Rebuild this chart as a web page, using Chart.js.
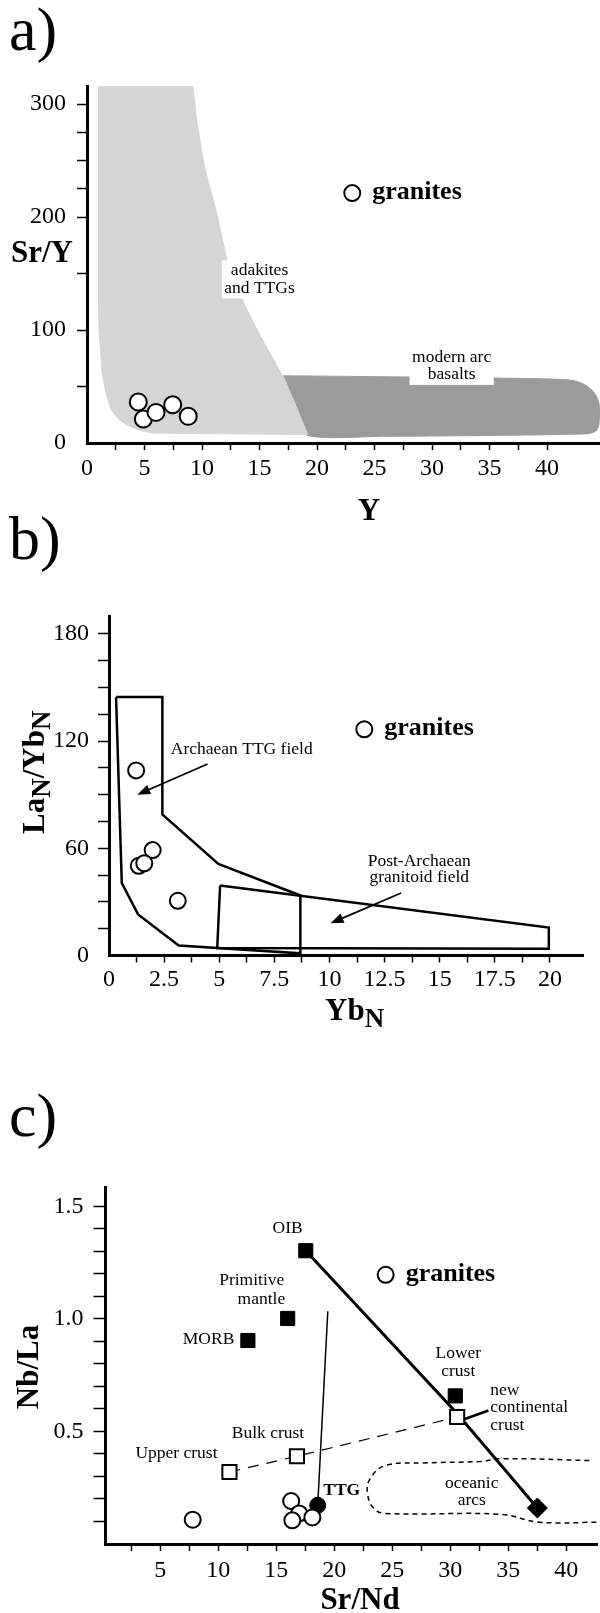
<!DOCTYPE html>
<html>
<head>
<meta charset="utf-8">
<script src="https://cdn.jsdelivr.net/npm/chart.js@4.4.0/dist/chart.umd.min.js"></script>
<style>
  html, body { margin: 0; padding: 0; background: #fff; }
  body { width: 600px; height: 1613px; position: relative; overflow: hidden; }
  .panel { position: absolute; left: 0; width: 600px; }
</style>
</head>
<body>
<div class="panel" style="top:0;height:530px"><canvas id="chartA"></canvas></div>
<div class="panel" style="top:500px;height:540px"><canvas id="chartB"></canvas></div>
<div class="panel" style="top:1040px;height:573px"><canvas id="chartC"></canvas></div>
<script>
// ---- a) Sr/Y vs Y ----
const samplesA_Y = [4.46, 4.9, 6.0, 7.45, 8.8];
const samplesA_SrY = [36.3, 21.2, 27.1, 33.9, 23.6];
const adakiteField_Y = [1.0, 9.2, 9.55, 10.2, 11.2, 12.2, 13.7, 15.0, 16.3, 17.2, 18.1, 19.2,
  5.7, 4.4, 3.4, 2.66, 2.1, 1.66, 1.33, 1.06, 1.0, 1.0];
const adakiteField_SrY = [316, 316, 284.7, 244.8, 206.5, 160.8, 122.4, 95.9, 72.3, 56, 33.9, 7.4,
  8.8, 11.8, 16.2, 22, 29.5, 44, 60.5, 97, 122.4, 316];
const arcField_Y = [16.7, 28.2, 35.3, 41.7, 43.0, 44.0, 44.5, 44.5, 44.2, 43.3, 25.7, 19.2, 18.7, 18.0, 17.2, 16.7];
const arcField_SrY = [59.6, 58.4, 57.5, 56, 53, 45.7, 35.4, 16.2, 10.3, 8, 5.9, 6.5, 20.6, 38.3, 53, 59.6];
const xTicksA = [0, 2.5, 5, 7.5, 10, 12.5, 15, 17.5, 20, 22.5, 25, 27.5, 30, 32.5, 35, 37.5, 40];
const xLabelsA = [0, 5, 10, 15, 20, 25, 30, 35, 40];
const yTicksA = [0, 50, 100, 150, 200, 225, 250, 275, 300];
const yLabelsA = [0, 100, 200, 300];

// ---- b) LaN/YbN vs YbN ----
const samplesB_Yb = [1.23, 1.98, 1.35, 1.6, 3.12];
const samplesB_LaYb = [103.6, 59, 50.2, 51.6, 30.6];
const ttgField_Yb = [0.32, 2.42, 2.42, 4.96, 8.68, 8.68, 3.16, 1.32, 0.58, 0.32];
const ttgField_LaYb = [144.6, 144.6, 79, 51.2, 33.6, 1.2, 5.6, 23, 40.6, 144.6];
const granitoidField_Yb = [5.04, 19.95, 19.95, 4.91, 5.04];
const granitoidField_LaYb = [39.2, 15.6, 3.8, 4.2, 39.2];
const xTicksB = [0, 1.25, 2.5, 3.75, 5, 6.25, 7.5, 8.75, 10, 11.25, 12.5, 13.75, 15, 16.25, 17.5, 18.75, 20];
const xLabelsB = [0, 2.5, 5, 7.5, 10, 12.5, 15, 17.5, 20];
const yTicksB = [0, 15, 30, 45, 60, 75, 90, 105, 120, 135, 150, 165, 180];
const yLabelsB = [0, 60, 120, 180];

// ---- c) Nb/La vs Sr/Nd ----
const samplesC_SrNd = [7.79, 16.28, 16.97, 16.38, 18.11];
const samplesC_NbLa = [0.108, 0.191, 0.136, 0.105, 0.118];
const ttgC_SrNd = [18.57];
const ttgC_NbLa = [0.172];
const mantleC_names = ['OIB', 'Primitive mantle', 'MORB', 'Lower crust'];
const mantleC_SrNd = [17.54, 15.98, 12.55, 30.43];
const mantleC_NbLa = [1.303, 1.002, 0.904, 0.658];
const crustC_names = ['new continental crust', 'Bulk crust', 'Upper crust'];
const crustC_SrNd = [30.59, 16.78, 10.96];
const crustC_NbLa = [0.564, 0.390, 0.320];
const arcEndC_SrNd = [37.51];
const arcEndC_NbLa = [0.160];
const mixLineC_SrNd = [17.54, 30.53, 37.51];
const mixLineC_NbLa = [1.303, 0.583, 0.160];
const ttgLineC_SrNd = [19.44, 18.57];
const ttgLineC_NbLa = [1.034, 0.172];
const crustLineC_SrNd = [10.96, 16.78, 30.59];
const crustLineC_NbLa = [0.320, 0.390, 0.564];
const arcsField_SrNd = [42.0, 34.35, 32.68, 27.7, 24.37, 23.03, 22.87, 23.37, 24.37, 34.35, 37.68, 43.0];
const arcsField_NbLa = [0.371, 0.379, 0.367, 0.360, 0.348, 0.285, 0.222, 0.160, 0.136, 0.132, 0.097, 0.097];
const xTicksC = [2.5, 5, 7.5, 10, 12.5, 15, 17.5, 20, 22.5, 25, 27.5, 30, 32.5, 35, 37.5, 40];
const xLabelsC = [5, 10, 15, 20, 25, 30, 35, 40];
const yTicksC = [0.1, 0.2, 0.3, 0.4, 0.5, 0.6, 0.7, 0.8, 0.9, 1.0, 1.1, 1.2, 1.3, 1.4, 1.5];
const yLabelsC = [0.5, 1.0, 1.5];

const serif = '"Liberation Serif", "Times New Roman", serif';
const tickFont = { family: serif, size: 24 };
const noteFont = '17.5px ' + serif;
const titleFont = 'bold 31px ' + serif;
const subFont = 'bold 27px ' + serif;
const letterFont = '62px ' + serif;

const pts = (xs, ys) => xs.map((x, i) => ({ x: x, y: ys[i] }));

function axis(min, max, tickVals, labelVals, fmt, size, tickLen, pad) {
  return {
    type: 'linear', min: min, max: max,
    afterBuildTicks: s => { s.ticks = tickVals.map(v => ({ value: v })); },
    afterFit: s => { if (s.isHorizontal()) s.height = size; else s.width = size; },
    ticks: {
      autoSkip: false, maxRotation: 0, padding: pad, color: '#000', font: tickFont,
      callback: v => labelVals.includes(v) ? fmt(v) : ''
    },
    grid: {
      drawOnChartArea: false, tickLength: tickLen, tickWidth: 1.5,
      tickColor: c => (c.tick && c.tick.value === 0) ? 'rgba(0,0,0,0)' : '#000'
    },
    border: { color: '#000', width: 3 }
  };
}

function baseOptions(pad, xAxis, yAxis) {
  return {
    responsive: true, maintainAspectRatio: false, animation: false,
    layout: { padding: pad, autoPadding: false },
    plugins: { legend: { display: false }, tooltip: { enabled: false } },
    scales: { x: xAxis, y: yAxis }
  };
}

function text(ctx, s, x, y, font, align, base) {
  ctx.font = font;
  ctx.fillStyle = '#000';
  ctx.textAlign = align || 'center';
  ctx.textBaseline = base || 'middle';
  ctx.fillText(s, x, y);
}

function granites(ctx, px, py) {
  ctx.beginPath();
  ctx.arc(px, py, 8, 0, Math.PI * 2);
  ctx.fillStyle = '#fff';
  ctx.fill();
  ctx.lineWidth = 2;
  ctx.strokeStyle = '#000';
  ctx.stroke();
  text(ctx, 'granites', px + 20, py + 6, 'bold 26px ' + serif, 'left', 'alphabetic');
}

function labelBox(ctx, lines, cx, cy) {
  ctx.font = noteFont;
  const lh = 17.5;
  const w = Math.max(...lines.map(s => ctx.measureText(s).width)) + 5;
  const h = lh * lines.length + 3;
  ctx.fillStyle = '#fff';
  ctx.fillRect(cx - w / 2, cy - h / 2, w, h);
  lines.forEach((s, i) => text(ctx, s, cx, cy + (i - (lines.length - 1) / 2) * lh, noteFont));
}

function arrow(ctx, x0, y0, x1, y1) {
  const a = Math.atan2(y1 - y0, x1 - x0);
  ctx.strokeStyle = '#000';
  ctx.lineWidth = 1.8;
  ctx.beginPath();
  ctx.moveTo(x0, y0);
  ctx.lineTo(x1 - 8 * Math.cos(a), y1 - 8 * Math.sin(a));
  ctx.stroke();
  ctx.beginPath();
  ctx.moveTo(x1, y1);
  ctx.lineTo(x1 - 13 * Math.cos(a) + 5 * Math.sin(a), y1 - 13 * Math.sin(a) - 5 * Math.cos(a));
  ctx.lineTo(x1 - 13 * Math.cos(a) - 5 * Math.sin(a), y1 - 13 * Math.sin(a) + 5 * Math.cos(a));
  ctx.closePath();
  ctx.fillStyle = '#000';
  ctx.fill();
}

// ---------------- a) ----------------
const fieldLabelsA = [
  { lines: ['adakites', 'and TTGs'], x: 15.0, y: 144.8 },
  { lines: ['modern arc', 'basalts'], x: 31.7, y: 68.2 }
];

new Chart(document.getElementById('chartA'), {
  type: 'scatter',
  data: {
    datasets: [
      { label: 'samples', data: pts(samplesA_Y, samplesA_SrY), pointRadius: 8.5,
        pointBackgroundColor: '#fff', pointBorderColor: '#000', pointBorderWidth: 2, order: 0 },
      { label: 'adakites and TTGs', data: pts(adakiteField_Y, adakiteField_SrY), showLine: true,
        fill: 'shape', backgroundColor: '#d5d5d5', borderColor: '#d5d5d5', borderWidth: 1,
        pointRadius: 0, order: 1 },
      { label: 'modern arc basalts', data: pts(arcField_Y, arcField_SrY), showLine: true,
        fill: 'shape', backgroundColor: '#9b9b9b', borderColor: '#9b9b9b', borderWidth: 1,
        tension: 0.3, pointRadius: 0, order: 2 }
    ]
  },
  options: baseOptions({ top: 86, right: 0, bottom: 0, left: 0 },
    axis(0, 44.6, xTicksA, xLabelsA, v => String(v), 87, 7, 4),
    axis(0, 316, yTicksA, yLabelsA, v => String(v), 87, 10, 11)),
  plugins: [{
    id: 'decorA',
    afterDraw(chart) {
      const { ctx, scales: { x, y } } = chart;
      ctx.save();
      fieldLabelsA.forEach(l => labelBox(ctx, l.lines, x.getPixelForValue(l.x), y.getPixelForValue(l.y)));
      granites(ctx, x.getPixelForValue(23.06), y.getPixelForValue(221.2));
      text(ctx, 'a)', 9, 50, letterFont, 'left', 'alphabetic');
      text(ctx, 'Sr/Y', 11, 262, titleFont, 'left', 'alphabetic');
      text(ctx, 'Y', 369, 520, titleFont, 'center', 'alphabetic');
      ctx.restore();
    }
  }]
});

// ---------------- b) ----------------
const notesB = [
  { t: 'Archaean TTG field', x: 6.02, y: 115.6 },
  { t: 'Post-Archaean', x: 14.07, y: 52.6 },
  { t: 'granitoid field', x: 14.07, y: 43.6 }
];
const arrowsB = [
  { x0: 4.47, y0: 107.2, x1: 1.28, y1: 90 },
  { x0: 13.25, y0: 35, x1: 10.05, y1: 18 }
];

new Chart(document.getElementById('chartB'), {
  type: 'scatter',
  data: {
    datasets: [
      { label: 'samples', data: pts(samplesB_Yb, samplesB_LaYb), pointRadius: 8,
        pointBackgroundColor: '#fff', pointBorderColor: '#000', pointBorderWidth: 2, order: 0 },
      { label: 'Archaean TTG field', data: pts(ttgField_Yb, ttgField_LaYb), showLine: true,
        borderColor: '#000', borderWidth: 2.5, pointRadius: 0, order: 1 },
      { label: 'Post-Archaean granitoid field', data: pts(granitoidField_Yb, granitoidField_LaYb), showLine: true,
        borderColor: '#000', borderWidth: 2.5, pointRadius: 0, order: 2 }
    ]
  },
  options: baseOptions({ top: 116, right: 17, bottom: 0, left: 0 },
    axis(0, 21.5, xTicksB, xLabelsB, v => String(v), 84.5, 7, 3),
    axis(0, 190, yTicksB, yLabelsB, v => String(v), 109, 11, 9)),
  plugins: [{
    id: 'decorB',
    afterDraw(chart) {
      const { ctx, scales: { x, y } } = chart;
      ctx.save();
      notesB.forEach(n => text(ctx, n.t, x.getPixelForValue(n.x), y.getPixelForValue(n.y), noteFont));
      arrowsB.forEach(a => arrow(ctx, x.getPixelForValue(a.x0), y.getPixelForValue(a.y0),
        x.getPixelForValue(a.x1), y.getPixelForValue(a.y1)));
      granites(ctx, x.getPixelForValue(11.58), y.getPixelForValue(126.6));
      text(ctx, 'b)', 9, 59, letterFont, 'left', 'alphabetic');
      // x title Yb with subscript N
      ctx.font = titleFont;
      const wYb = ctx.measureText('Yb').width;
      text(ctx, 'Yb', 325, 520, titleFont, 'left', 'alphabetic');
      text(ctx, 'N', 325 + wYb, 527, subFont, 'left', 'alphabetic');
      // y title LaN/YbN, rotated
      ctx.translate(44, 334);
      ctx.rotate(-Math.PI / 2);
      let px = 0;
      [['La', titleFont, 0], ['N', subFont, 6], ['/Yb', titleFont, 0], ['N', subFont, 6]].forEach(p => {
        text(ctx, p[0], px, p[2], p[1], 'left', 'alphabetic');
        ctx.font = p[1];
        px += ctx.measureText(p[0]).width;
      });
      ctx.restore();
    }
  }]
});

// ---------------- c) ----------------
const notesC = [
  { t: 'OIB', x: 15.98, y: 1.40 },
  { t: 'Primitive', x: 12.88, y: 1.170 },
  { t: 'mantle', x: 13.71, y: 1.087 },
  { t: 'MORB', x: 9.16, y: 0.909 },
  { t: 'Lower', x: 30.69, y: 0.846 },
  { t: 'crust', x: 30.69, y: 0.767 },
  { t: 'Bulk crust', x: 14.28, y: 0.492 },
  { t: 'Upper crust', x: 6.39, y: 0.403 },
  { t: 'oceanic', x: 31.85, y: 0.269 },
  { t: 'arcs', x: 31.85, y: 0.194 }
];
const notesLeftC = [
  { t: 'new', x: 33.45, y: 0.684 },
  { t: 'continental', x: 33.45, y: 0.606 },
  { t: 'crust', x: 33.45, y: 0.525 }
];

new Chart(document.getElementById('chartC'), {
  type: 'scatter',
  data: {
    datasets: [
      { label: 'samples', data: pts(samplesC_SrNd, samplesC_NbLa), pointRadius: 8,
        pointBackgroundColor: '#fff', pointBorderColor: '#000', pointBorderWidth: 2, order: 0 },
      { label: 'TTG', data: pts(ttgC_SrNd, ttgC_NbLa), pointRadius: 8,
        pointBackgroundColor: '#000', pointBorderColor: '#000', pointBorderWidth: 1, order: 0 },
      { label: 'mantle and lower crust', data: pts(mantleC_SrNd, mantleC_NbLa), pointStyle: 'rect', pointRadius: 10,
        pointBackgroundColor: '#000', pointBorderColor: '#000', pointBorderWidth: 1, order: 0 },
      { label: 'crust', data: pts(crustC_SrNd, crustC_NbLa), pointStyle: 'rect', pointRadius: 10,
        pointBackgroundColor: '#fff', pointBorderColor: '#000', pointBorderWidth: 2, order: 0 },
      { label: 'arc end-member', data: pts(arcEndC_SrNd, arcEndC_NbLa), pointStyle: 'rectRot', pointRadius: 10,
        pointBackgroundColor: '#000', pointBorderColor: '#000', pointBorderWidth: 1, order: 0 },
      { label: 'mixing line', data: pts(mixLineC_SrNd, mixLineC_NbLa), showLine: true,
        borderColor: '#000', borderWidth: 3, pointRadius: 0, order: 3 },
      { label: 'TTG line', data: pts(ttgLineC_SrNd, ttgLineC_NbLa), showLine: true,
        borderColor: '#000', borderWidth: 1.5, pointRadius: 0, order: 3 },
      { label: 'crust line', data: pts(crustLineC_SrNd, crustLineC_NbLa), showLine: true,
        borderColor: '#000', borderWidth: 1.2, borderDash: [11, 8], pointRadius: 0, order: 3 },
      { label: 'oceanic arcs', data: pts(arcsField_SrNd, arcsField_NbLa), showLine: true,
        borderColor: '#000', borderWidth: 1.5, borderDash: [5, 4], tension: 0.4, pointRadius: 0, order: 3 }
    ]
  },
  options: baseOptions({ top: 147, right: 3, bottom: 0, left: 0 },
    axis(0.23, 42.65, xTicksC, xLabelsC, v => String(v), 69, 7, 5),
    axis(0, 1.586, yTicksC, yLabelsC, v => v.toFixed(1), 105, 11.5, 10)),
  plugins: [{
    id: 'decorC',
    afterDraw(chart) {
      const { ctx, scales: { x, y } } = chart;
      ctx.save();
      notesC.forEach(n => text(ctx, n.t, x.getPixelForValue(n.x), y.getPixelForValue(n.y), noteFont));
      notesLeftC.forEach(n => text(ctx, n.t, x.getPixelForValue(n.x), y.getPixelForValue(n.y), noteFont, 'left'));
      text(ctx, 'TTG', x.getPixelForValue(19.05), y.getPixelForValue(0.238), 'bold 17.5px ' + serif, 'left');
      // leader from new continental crust to its label
      ctx.strokeStyle = '#000';
      ctx.lineWidth = 2.5;
      ctx.beginPath();
      ctx.moveTo(x.getPixelForValue(31.19), y.getPixelForValue(0.554));
      ctx.lineTo(x.getPixelForValue(33.29), y.getPixelForValue(0.593));
      ctx.stroke();
      granites(ctx, x.getPixelForValue(24.43), y.getPixelForValue(1.196));
      text(ctx, 'c)', 9, 96, letterFont, 'left', 'alphabetic');
      text(ctx, 'Sr/Nd', 360, 569, titleFont, 'center', 'alphabetic');
      ctx.translate(38, 327);
      ctx.rotate(-Math.PI / 2);
      text(ctx, 'Nb/La', 0, 0, titleFont, 'center', 'alphabetic');
      ctx.restore();
    }
  }]
});
</script>
</body>
</html>
